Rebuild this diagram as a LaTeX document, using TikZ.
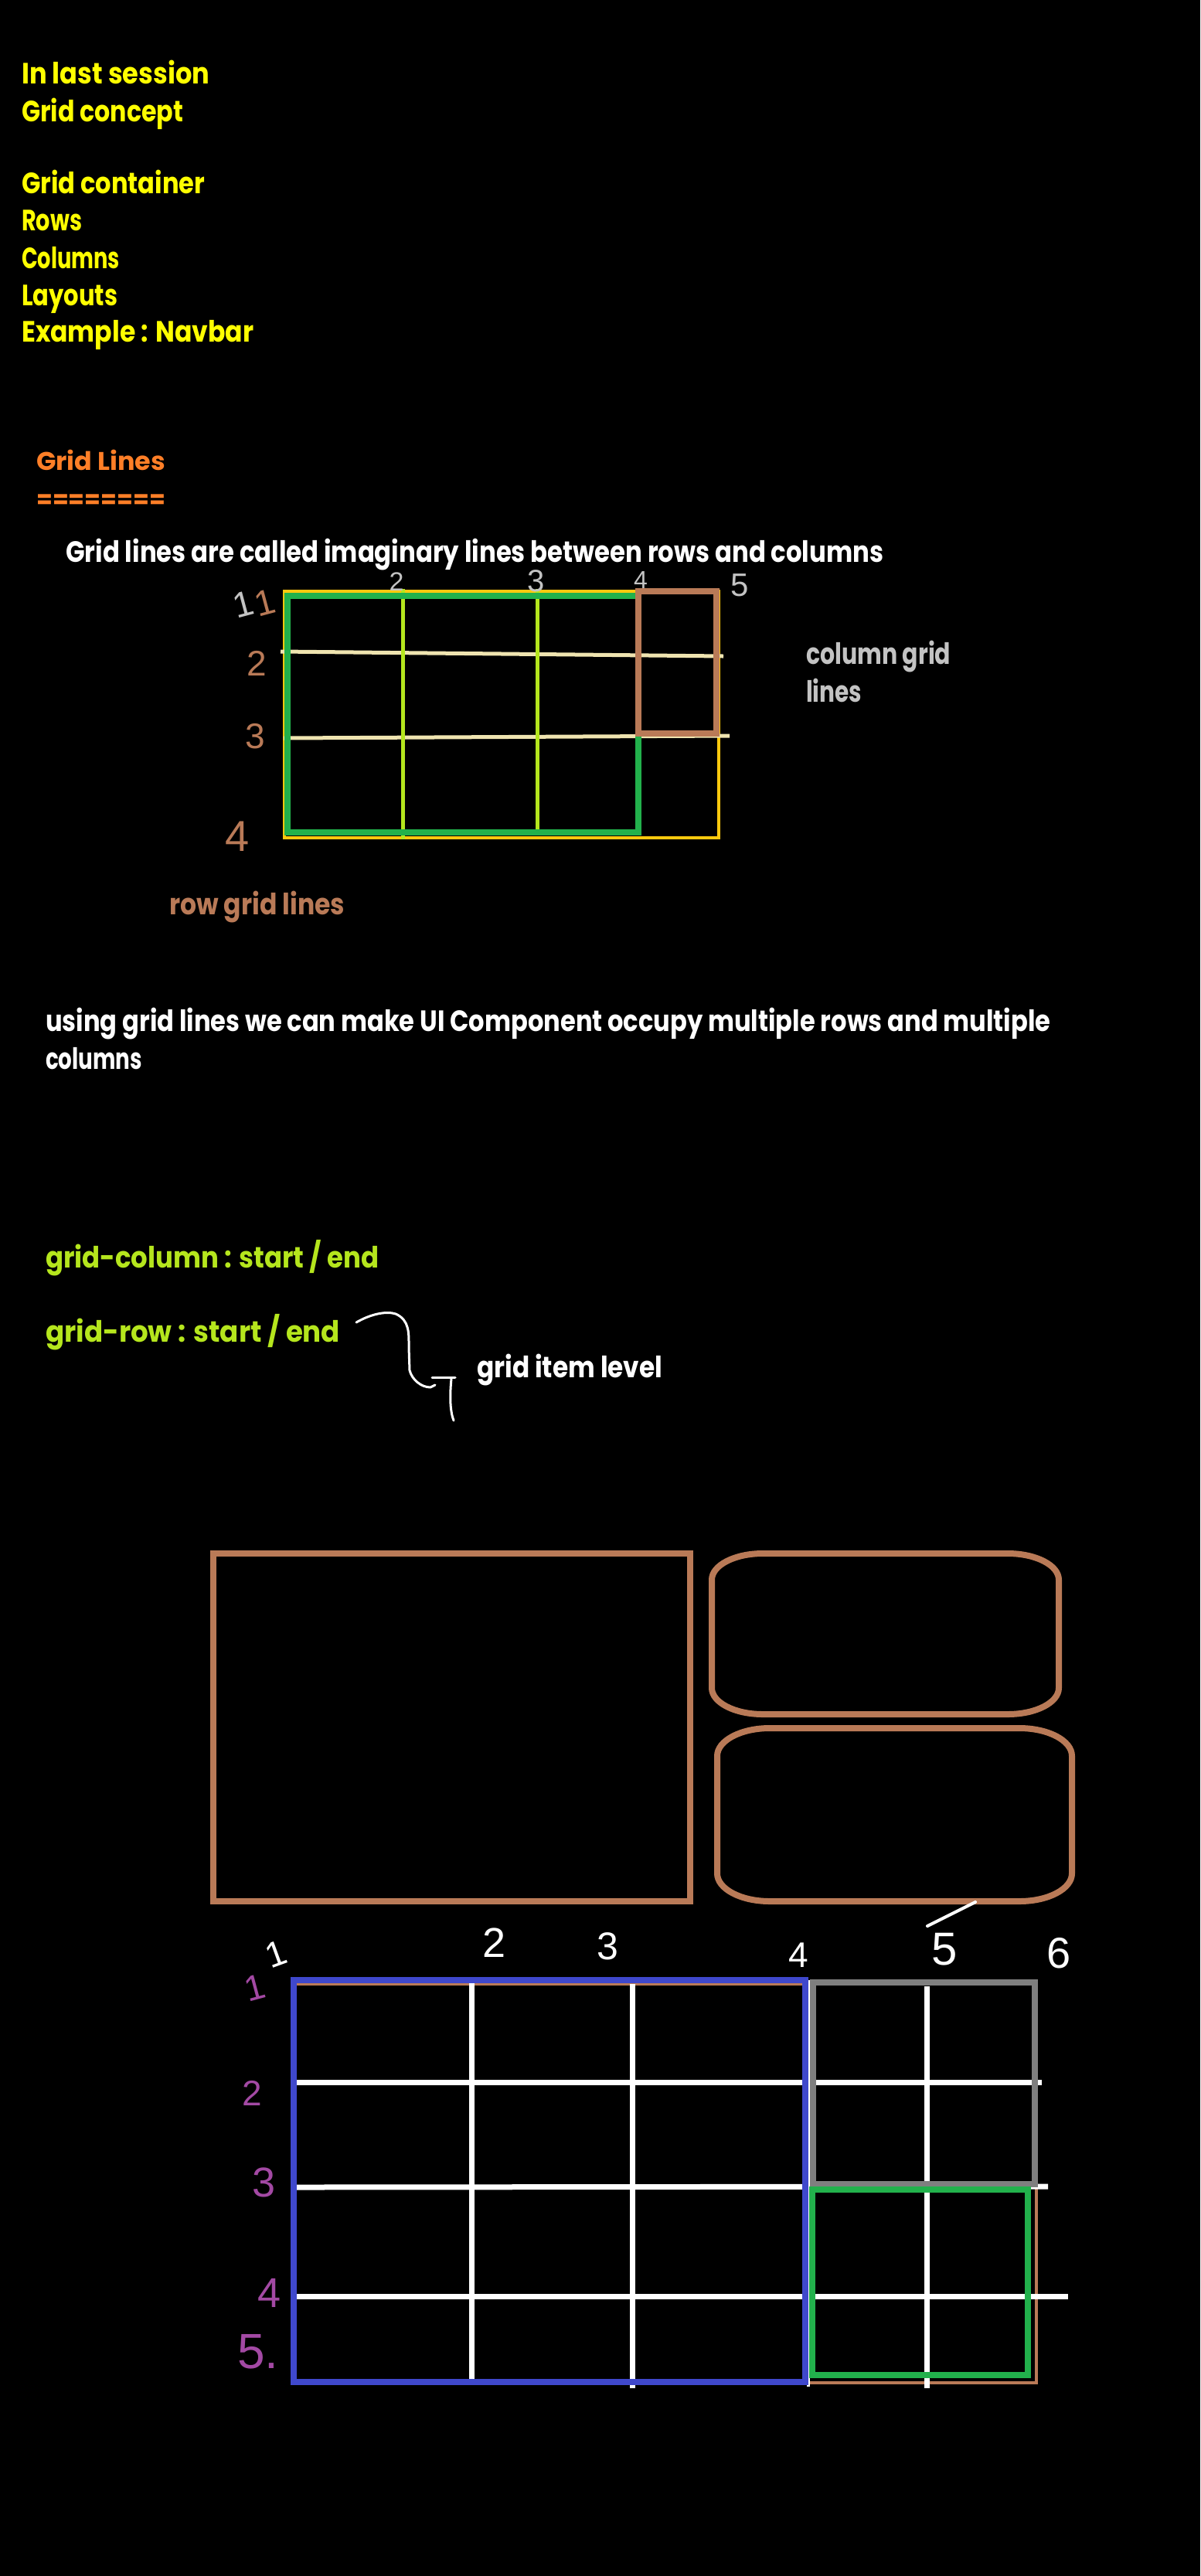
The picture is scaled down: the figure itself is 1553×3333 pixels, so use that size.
\documentclass[tikz,border=0pt]{standalone}
\usepackage{fontspec}
\usepackage{graphicx}
\setmainfont{Poppins}
\newfontfamily\hand{Liberation Sans}
\definecolor{cyel}{HTML}{FFFF00}
\definecolor{corange}{HTML}{FF7F27}
\definecolor{clime}{HTML}{B5E61D}
\definecolor{cgreen}{HTML}{22B14C}
\definecolor{ccream}{HTML}{EFE4B0}
\definecolor{cgold}{HTML}{FFC90E}
\definecolor{cbrown}{HTML}{B97A57}
\definecolor{cblue}{HTML}{3F48CC}
\definecolor{cgray}{HTML}{7F7F7F}
\definecolor{clgray}{HTML}{C3C3C3}
\definecolor{cpurple}{HTML}{A349A4}
\newcommand\fw[2]{\resizebox{#1pt}{\height}{#2}}
\tikzset{
  txt/.style={anchor=base west, inner sep=0pt, font=\fontsize{38}{38}\selectfont\bfseries},
  num/.style={anchor=center, inner sep=0pt, font=\hand\fontsize{46}{46}\selectfont},
  wline/.style={draw=white, line width=3pt, line cap=round, line join=round},
}
\begin{document}
\begin{tikzpicture}[x=1pt,y=-1pt]
\fill[black] (0,0) rectangle (1553,3333);
\useasboundingbox (0,0) rectangle (1553,3333);

% ---- top list ----
\node[txt, text=cyel] (t1) at (28,108) {\fw{243}{In last session}};
\node[txt, text=cyel] (t2) at (28,157) {\fw{209}{Grid concept}};
\node[txt, text=cyel] (t3) at (28,250) {\fw{237}{Grid container}};
\node[txt, text=cyel] (t4) at (28,298) {\fw{78}{Rows}};
\node[txt, text=cyel] (t5) at (28,347) {\fw{127}{Columns}};
\node[txt, text=cyel] (t6) at (28,395) {\fw{124}{Layouts}};
\node[txt, text=cyel] (t7) at (28,442) {\fw{300}{Example : Navbar}};

\node[txt, text=corange, font=\fontsize{33}{33}\selectfont\bfseries] (gl) at (47,608) {\fw{167}{Grid Lines}};
\node[txt, text=corange, anchor=west, font=\fontsize{32}{32}\selectfont\bfseries] (eq) at (47,649) {\fw{167}{========}};

\node[txt, text=white] (def) at (85,727) {\fw{1058}{Grid lines are called imaginary lines between rows and columns}};

% ---- grid 1 ----
\draw[cgold, line width=4pt] (368,765) rectangle (930,1084);
\draw[ccream, line width=5pt] (363,843) -- (936,849);
\draw[ccream, line width=5pt] (367,955) -- (944,952);
\draw[clime, line width=5pt] (521,762) -- (521,1086);
\draw[clime, line width=5pt] (695,762) -- (695,1080);
\draw[cgreen, line width=8pt] (372,771) rectangle (826,1077);
\draw[cbrown, line width=8pt] (826,765) rectangle (927,949);

\node[num, text=clgray, font=\hand\fontsize{34}{34}\selectfont] (c2) at (513,753) {2};
\node[num, text=clgray, font=\hand\fontsize{40}{40}\selectfont] (c3) at (694,752) {3};
\node[num, text=clgray, font=\hand\fontsize{32}{32}\selectfont] (c4) at (829,750) {4};
\node[num, text=clgray, font=\hand\fontsize{42}{42}\selectfont] (c5) at (957,757) {5};
\node[num, text=clgray, rotate=15] (c1) at (315,782) {1};
\node[num, text=cbrown, rotate=15] (r1) at (343,780) {1};
\node[num, text=cbrown] (r2) at (332,858) {2};
\node[num, text=cbrown] (r3) at (330,953) {3};
\node[num, text=cbrown, font=\hand\fontsize{56}{56}\selectfont] (r4) at (307,1082) {4};

\node[txt, text=clgray] (cgl1) at (1043,859) {\fw{187}{column grid}};
\node[txt, text=clgray] (cgl2) at (1043,908) {\fw{72}{lines}};
\node[txt, text=cbrown] (rgl) at (219,1183) {\fw{227}{row grid lines}};

% ---- middle text ----
\node[txt, text=white] (u1) at (59,1334) {\fw{1300}{using grid lines we can make UI Component occupy multiple rows and multiple}};
\node[txt, text=white] (u2) at (59,1383) {\fw{125}{columns}};
\node[txt, text=clime] (gc) at (59,1640) {\fw{431}{grid-column : start / end}};
\node[txt, text=clime] (gr) at (59,1736) {\fw{381}{grid-row : start / end}};
\node[txt, text=white] (gil) at (617,1782) {\fw{240}{grid item level}};

\draw[wline] (461,1711) .. controls (480,1700) and (500,1696) .. (512,1700)
  .. controls (530,1708) and (529,1725) .. (529,1743) -- (530,1773)
  .. controls (533,1785) and (545,1795) .. (557,1795) -- (563,1792);
\draw[wline] (559,1782) -- (589,1782);
\draw[wline] (584,1784) .. controls (582,1805) and (582,1825) .. (587,1838);

% ---- boxes ----
\draw[cbrown, line width=8pt] (276,2010) rectangle (893,2460);
\draw[cbrown, line width=8pt]
  (987,2010) -- (1304,2010) arc[start angle=-90, end angle=0, x radius=66, y radius=34]
  -- (1370,2184) arc[start angle=0, end angle=90, x radius=66, y radius=34]
  -- (987,2218) arc[start angle=90, end angle=180, x radius=66, y radius=34]
  -- (921,2044) arc[start angle=180, end angle=270, x radius=66, y radius=34] -- cycle;
\draw[cbrown, line width=8pt]
  (996,2236) -- (1319,2236) arc[start angle=-90, end angle=0, x radius=68, y radius=36]
  -- (1387,2424) arc[start angle=0, end angle=90, x radius=68, y radius=36]
  -- (996,2460) arc[start angle=90, end angle=180, x radius=68, y radius=36]
  -- (928,2272) arc[start angle=180, end angle=270, x radius=68, y radius=36] -- cycle;

% ---- grid 2 ----
\draw[cbrown, line width=4pt] (380,2567) rectangle (1341,3083);
\draw[white, line width=7pt] (384,2694) -- (1348,2694);
\draw[white, line width=7pt] (384,2830) -- (1356,2829);
\draw[white, line width=7pt] (384,2971) -- (1382,2971);
\draw[white, line width=7pt] (610,2566) -- (610,3082);
\draw[white, line width=7pt] (818,2567) -- (818,3090);
\draw[white, line width=7pt] (1199,2570) -- (1199,3090);
\draw[white, line width=4pt] (1046,2562) -- (1046,3088);
\draw[cblue, line width=8pt] (380,2562) rectangle (1042,3082);
\draw[cgray, line width=8pt] (1052,2565) rectangle (1339,2826);
\draw[cgreen, line width=8pt] (1051,2833) rectangle (1330,3073);

\draw[white, line width=4pt, line cap=round] (1262,2461) -- (1200,2492);
\node[num, text=white, rotate=20] (n1) at (357,2528) {1};
\node[num, text=white, font=\hand\fontsize{54}{54}\selectfont] (n2) at (640,2514) {2};
\node[num, text=white, font=\hand\fontsize{50}{50}\selectfont] (n3) at (786,2518) {3};
\node[num, text=white] (n4) at (1033,2530) {4};
\node[num, text=white, font=\hand\fontsize{60}{60}\selectfont] (n5) at (1222,2522) {5};
\node[num, text=white, font=\hand\fontsize{56}{56}\selectfont] (n6) at (1370,2527) {6};

\node[num, text=cpurple, rotate=15] (p1) at (330,2572) {1};
\node[num, text=cpurple] (p2) at (326,2708) {2};
\node[num, text=cpurple, font=\hand\fontsize{54}{54}\selectfont] (p3) at (342,2824) {3};
\node[num, text=cpurple, font=\hand\fontsize{54}{54}\selectfont] (p4) at (349,2967) {4};
\node[num, text=cpurple, font=\hand\fontsize{64}{64}\selectfont] (p5) at (334,3043) {5.};
\end{tikzpicture}
\end{document}
